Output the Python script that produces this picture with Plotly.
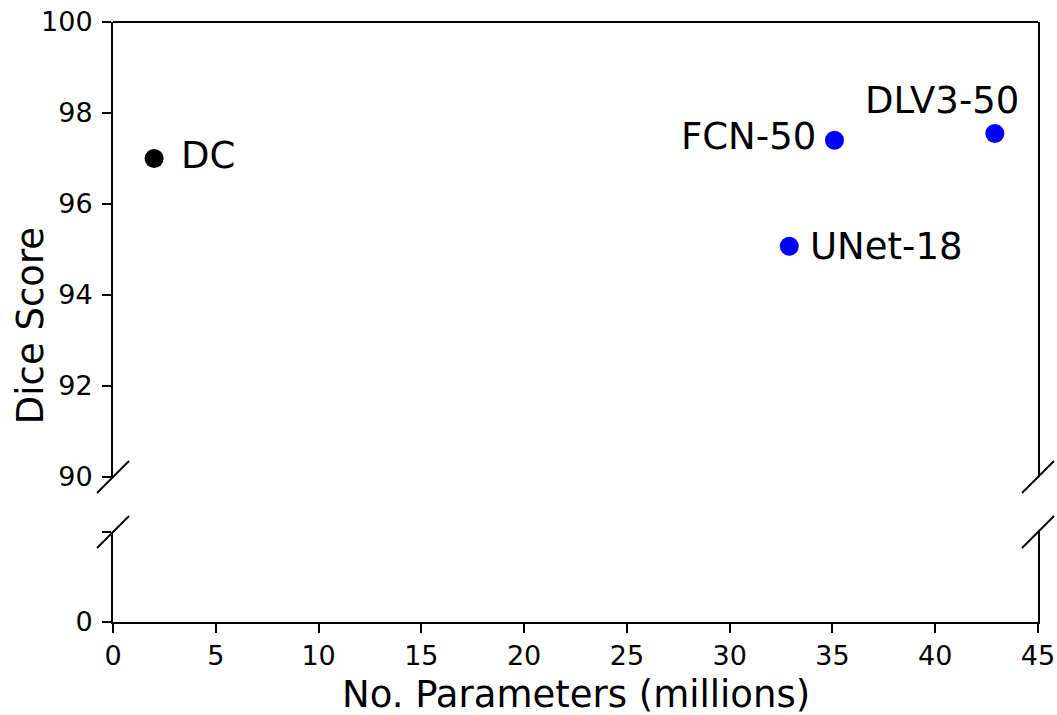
import plotly.graph_objects as go

models = ["DC", "FCN-50", "DLV3-50", "UNet-18"]
params_m = [2.0, 35.1, 42.9, 32.9]
dice = [97.0, 97.4, 97.55, 95.07]
colors = ["black", "blue", "blue", "blue"]

x_ticks = [0, 5, 10, 15, 20, 25, 30, 35, 40, 45]
y_top_ticks = [90, 92, 94, 96, 98, 100]
y_bot_ticks = [0, 2]
y_bot_labels = ["0", ""]

# label placement (anchor, xshift, yshift) in pixels
label_pos = {
    "DC": ("left", 25, 3),
    "FCN-50": ("right", -17, 4),
    "DLV3-50": ("right", 26, 33),
    "UNet-18": ("left", 19, 0),
}

W, H = 1057, 715
L, R, T, B = 113, 19, 22, 93
pw, ph = W - L - R, H - T - B
top_lo = 1 - (477 - T) / ph
bot_hi = (622 - 532) / ph

FONT = "DejaVu Sans"
fig = go.Figure()
fig.add_trace(go.Scatter(
    x=params_m, y=dice, mode="markers",
    marker=dict(size=19, color=colors),
    xaxis="x", yaxis="y", showlegend=False, hoverinfo="skip"))
fig.add_trace(go.Scatter(
    x=[None], y=[None], mode="markers", xaxis="x", yaxis="y2",
    showlegend=False))

for m, xv, yv in zip(models, params_m, dice):
    anc, xs, ys = label_pos[m]
    fig.add_annotation(x=xv, y=yv, xref="x", yref="y", text=m, showarrow=False,
                       xanchor=anc, yanchor="middle", xshift=xs, yshift=ys,
                       font=dict(family=FONT, size=37, color="black"))

axis_common = dict(showline=True, linecolor="black", linewidth=2,
                   ticks="outside", ticklen=9, tickwidth=2, tickcolor="black",
                   showgrid=False, zeroline=False, automargin=False,
                   tickfont=dict(family=FONT, size=27, color="black"))

fig.update_layout(
    width=W, height=H,
    margin=dict(l=L, r=R, t=T, b=B),
    paper_bgcolor="white", plot_bgcolor="white",
    xaxis=dict(range=[0, 45], tickvals=x_ticks, anchor="y2", domain=[0, 1],
               **axis_common),
    yaxis=dict(range=[90, 100], tickvals=y_top_ticks, domain=[top_lo, 1],
               anchor="x", mirror=True, ticklabelstandoff=4, **axis_common),
    yaxis2=dict(range=[0, 2], tickvals=y_bot_ticks, ticktext=y_bot_labels,
                domain=[0, bot_hi], anchor="x", mirror=True,
                ticklabelstandoff=4, **axis_common),
)

# top spine of upper panel
fig.add_shape(type="line", xref="paper", yref="paper", x0=0, x1=1, y0=1, y1=1,
              line=dict(color="black", width=2))

# break marks
dx, dy = 16 / pw, 16 / ph
for xc in (0, 1):
    for yc in (top_lo, bot_hi):
        fig.add_shape(type="line", xref="paper", yref="paper",
                      x0=xc - dx, x1=xc + dx, y0=yc - dy, y1=yc + dy,
                      line=dict(color="black", width=2))

fig.add_annotation(xref="paper", yref="paper", x=-83 / pw, y=0.493,
                   text="Dice Score", textangle=-90, showarrow=False,
                   xanchor="center", yanchor="middle",
                   font=dict(family=FONT, size=37, color="black"))
fig.add_annotation(xref="paper", yref="paper", x=(576 - L) / pw,
                   y=-(694 - 622) / ph,
                   text="No. Parameters (millions)", showarrow=False,
                   xanchor="center", yanchor="middle",
                   font=dict(family=FONT, size=37, color="black"))

fig.write_html("out.html", config={"displayModeBar": False},
               post_script="document.body.style.margin='0';"
                           "document.body.style.overflow='hidden';")
